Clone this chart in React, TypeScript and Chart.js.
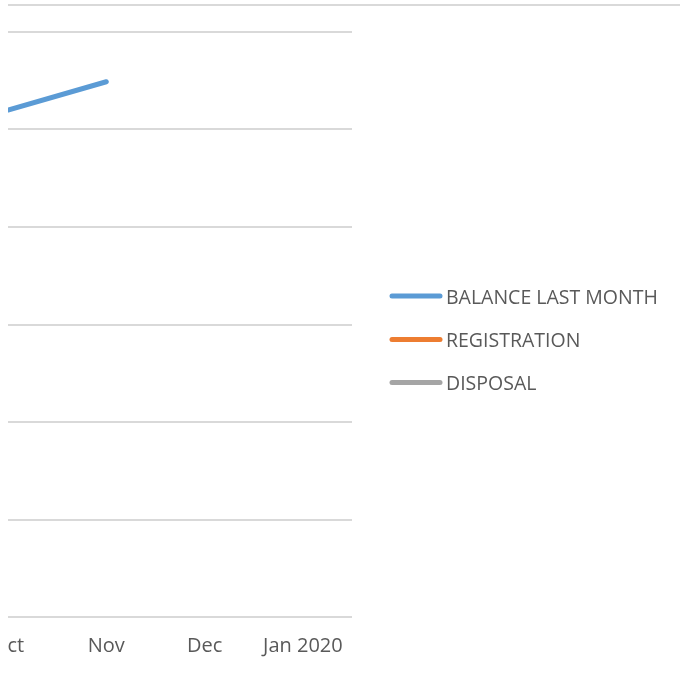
import React, { useEffect, useRef } from "react";
import { Chart, registerables } from "chart.js";

Chart.register(...registerables);

const months: string[] = ["Oct", "Nov", "Dec", "Jan 2020"];
const balanceLastMonth: (number | null)[] = [5200, 5490, null, null];
const registration: (number | null)[] = [null, null, null, null];
const disposal: (number | null)[] = [null, null, null, null];
const seriesNames: string[] = ["BALANCE LAST MONTH", "REGISTRATION", "DISPOSAL"];
const seriesColors: string[] = ["#5B9BD5", "#ED7D31", "#A5A5A5"];

const OFFSET_X = -40; // canvas left edge on page
const CANVAS_W = 720;
const CANVAS_H = 675;
const FONT = "'Open Sans', 'Liberation Sans', sans-serif";

const decorPlugin = {
  id: "decor",
  beforeDraw(chart: any) {
    const ctx = chart.ctx;
    ctx.save();
    ctx.strokeStyle = "#d9d9d9";
    ctx.lineWidth = 2;
    ctx.beginPath();
    ctx.moveTo(8 - OFFSET_X, 5);
    ctx.lineTo(CANVAS_W, 5);
    ctx.stroke();
    ctx.restore();
  },
  afterDraw(chart: any) {
    const ctx = chart.ctx;
    ctx.save();
    const ys = [296, 339.5, 382.5];
    chart.data.datasets.forEach((ds: any, i: number) => {
      const y = ys[i];
      ctx.strokeStyle = ds.borderColor;
      ctx.lineWidth = 5;
      ctx.lineCap = "round";
      ctx.beginPath();
      ctx.moveTo(392 - OFFSET_X, y);
      ctx.lineTo(440 - OFFSET_X, y);
      ctx.stroke();
      ctx.fillStyle = "#595959";
      ctx.font = `19.5px ${FONT}`;
      ctx.textBaseline = "middle";
      ctx.textAlign = "left";
      ctx.fillText(ds.label, 446 - OFFSET_X, y + 2);
    });
    ctx.restore();
  },
};

export default function App() {
  const ref = useRef<HTMLCanvasElement>(null);
  useEffect(() => {
    if (!ref.current) return;
    const toPts = (arr: (number | null)[]) => arr.map((v, i) => ({ x: i, y: v }));
    const chart = new Chart(ref.current, {
      type: "line",
      data: {
        datasets: [
          { label: seriesNames[0], data: toPts(balanceLastMonth) as any, borderColor: seriesColors[0], backgroundColor: seriesColors[0] },
          { label: seriesNames[1], data: toPts(registration) as any, borderColor: seriesColors[1], backgroundColor: seriesColors[1] },
          { label: seriesNames[2], data: toPts(disposal) as any, borderColor: seriesColors[2], backgroundColor: seriesColors[2] },
        ],
      },
      options: {
        animation: false,
        responsive: false,
        devicePixelRatio: 1,
        layout: { padding: { left: 48, right: 328, top: 32, bottom: 0 } },
        elements: {
          line: { borderWidth: 5, borderCapStyle: "round", borderJoinStyle: "round", tension: 0 },
          point: { radius: 0, hoverRadius: 0 },
        },
        plugins: { legend: { display: false }, tooltip: { enabled: false } },
        scales: {
          x: {
            type: "linear",
            min: 0,
            max: 3.5,
            grid: { display: false, drawTicks: false },
            border: { display: false },
            ticks: {
              stepSize: 1,
              includeBounds: false,
              autoSkip: false,
              maxRotation: 0,
              padding: 17,
              color: "#595959",
              font: { family: FONT, size: 20 },
              callback: (v: any) => (Number.isInteger(v) && months[v] !== undefined ? months[v] : ""),
            },
          },
          y: {
            min: 0,
            max: 6000,
            grid: { color: "#d9d9d9", lineWidth: 2, drawTicks: false },
            border: { display: false },
            ticks: { display: false, stepSize: 1000 },
          },
        },
      },
      plugins: [decorPlugin],
    });
    return () => chart.destroy();
  }, []);
  return (
    <div style={{ position: "absolute", left: 8, top: 0, width: 672, height: 674, overflow: "hidden" }}>
      <canvas ref={ref} width={CANVAS_W} height={CANVAS_H} style={{ display: "block", marginLeft: OFFSET_X - 8 }} />
    </div>
  );
}
